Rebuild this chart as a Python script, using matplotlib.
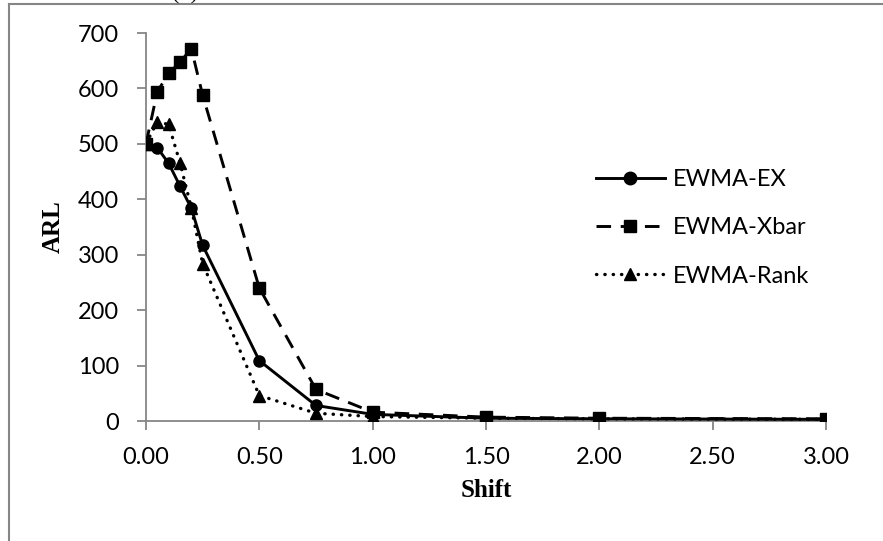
import matplotlib

matplotlib.use("Agg")

import matplotlib.pyplot as plt
from matplotlib.lines import Line2D

# shift values and ARL for each chart
shift = [0.0, 0.05, 0.10, 0.15, 0.20, 0.25, 0.50, 0.75, 1.00, 1.50, 2.00, 3.00]
arl_ex = [500, 493, 465, 424, 384, 317, 109, 28, 12, 5, 4, 3]
arl_xbar = [500, 594, 627, 647, 672, 588, 240, 57, 16, 7, 5, 4]
arl_rank = [500, 540, 535, 466, 385, 284, 46, 14, 8, 5, 4, 3]

x_ticks = [0.0, 0.5, 1.0, 1.5, 2.0, 2.5, 3.0]
y_ticks = [0, 100, 200, 300, 400, 500, 600, 700]

AXIS_GREY = "#868686"
TICK_FONT = "Lato"
LW = 2.1

fig = plt.figure(figsize=(8.83, 5.41), dpi=100)
ax = fig.add_axes([0.1653, 0.2218, 0.9354 - 0.1653, 0.939 - 0.2218])

ax.plot(shift, arl_ex, color="black", linestyle="-", linewidth=LW,
        marker="o", markersize=8, label="EWMA-EX")
ax.plot(shift, arl_xbar, color="black", linestyle=(0, (5, 3.3)), linewidth=LW,
        marker="s", markersize=9, label="EWMA-Xbar")
ax.plot(shift, arl_rank, color="black", linestyle=(0, (0.1, 2.4)), linewidth=2.4,
        dash_capstyle="round", marker="^", markersize=9, label="EWMA-Rank")

ax.set_xlim(0, 3.0)
ax.set_ylim(0, 700)
ax.set_xticks(x_ticks)
ax.set_xticklabels([f"{t:.2f}" for t in x_ticks])
ax.set_yticks(y_ticks)
ax.set_yticklabels([str(t) for t in y_ticks])

for side in ("top", "right"):
    ax.spines[side].set_visible(False)
for side in ("left", "bottom"):
    ax.spines[side].set_color(AXIS_GREY)
    ax.spines[side].set_linewidth(1.3)
    ax.spines[side].set_zorder(0)

ax.tick_params(axis="both", direction="out", length=6.5, width=1.3, color=AXIS_GREY,
               labelsize=17)
ax.tick_params(axis="y", pad=13)
ax.tick_params(axis="x", pad=12)
for lab in ax.get_xticklabels() + ax.get_yticklabels():
    lab.set_family(TICK_FONT)

ax.set_xlabel("Shift", family="Liberation Serif", fontweight="bold", fontsize=18, labelpad=8)
ax.set_ylabel("ARL", family="Liberation Serif", fontweight="bold", fontsize=18, labelpad=9)

leg = ax.legend(loc="upper left", bbox_to_anchor=(0.648, 0.673), borderaxespad=0,
                frameon=False, prop={"family": TICK_FONT, "size": 17}, handlelength=2.9,
                handletextpad=0.35, labelspacing=1.15)
for line in leg.get_lines():
    line.set_markersize(9)

# outer chart border (partly cut off in the reference)
fig.add_artist(Line2D([9 / 883, 9 / 883], [0, 1 - 4 / 541], transform=fig.transFigure,
                      color=AXIS_GREY, linewidth=1.5))
fig.add_artist(Line2D([9 / 883, 1], [1 - 4 / 541, 1 - 4 / 541], transform=fig.transFigure,
                      color=AXIS_GREY, linewidth=1.5))
fig.text(0.21, 1 + 1 / 541, "(b)", family="Liberation Serif", fontsize=16,
         ha="center", va="baseline")

fig.savefig("out.png", dpi=100)
